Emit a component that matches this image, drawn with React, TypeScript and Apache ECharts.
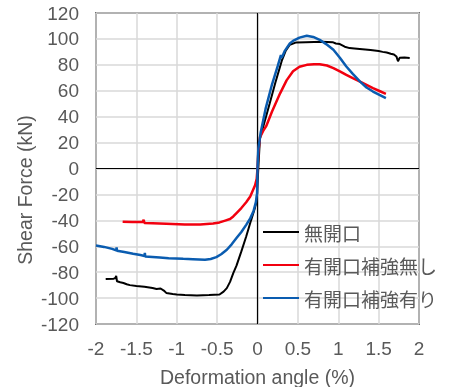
import React, { useEffect, useRef } from "react";
import * as echarts from "echarts";

const seriesNames = ["無開口", "有開口補強無し", "有開口補強有り"];
const seriesColors = ["#000000", "#f2000f", "#0a5cb0"];

const xTicks = { min: -2, max: 2, step: 0.5 };
const yTicks = { min: -120, max: 120, step: 20 };

const noOpening: number[][] = [
  [-1.88, -85.3], [-1.78, -85], [-1.76, -84.5], [-1.75, -82.8], [-1.74, -87], [-1.7, -87.8],
  [-1.66, -88.4], [-1.62, -89.3], [-1.58, -90], [-1.5, -90.6], [-1.4, -91.3], [-1.3, -92.2],
  [-1.25, -93], [-1.2, -92.6], [-1.16, -94.2], [-1.13, -96], [-1.05, -96.8], [-1.0, -97.2],
  [-0.9, -97.6], [-0.75, -98], [-0.6, -97.6], [-0.47, -97.2], [-0.42, -95], [-0.38, -92.3],
  [-0.34, -87.5], [-0.3, -80.7], [-0.26, -75], [-0.2, -64], [-0.14, -52.5], [-0.08, -40],
  [-0.03, -30], [-0.01, -25], [0, -12], [0.01, 0], [0.03, 23], [0.07, 32], [0.15, 50],
  [0.22, 66], [0.3, 83], [0.35, 91], [0.4, 95.5], [0.48, 97.3], [0.6, 97.5], [0.8, 97.8],
  [0.93, 97.5], [0.97, 96.5], [1.02, 96], [1.08, 94], [1.14, 92.9], [1.2, 92.6], [1.3, 92],
  [1.4, 91.4], [1.5, 90.6], [1.55, 90], [1.6, 89.5], [1.65, 88.6], [1.69, 88], [1.72, 86.5],
  [1.74, 82.8], [1.76, 85.4], [1.82, 85.6], [1.885, 85.2],
];

const openingNoReinf: number[][] = [
  [-1.67, -41], [-1.55, -41.2], [-1.42, -41.3], [-1.41, -39.5], [-1.4, -42], [-1.3, -42.2],
  [-1.13, -42.6], [-0.9, -43.2], [-0.71, -43.2], [-0.55, -42.5], [-0.47, -41.6], [-0.4, -40.2],
  [-0.34, -39], [-0.3, -37], [-0.26, -34.4], [-0.2, -30.5], [-0.14, -26], [-0.09, -21.6],
  [-0.03, -13], [-0.01, -8], [0, 0], [0.01, 12], [0.03, 24], [0.07, 29], [0.11, 33],
  [0.18, 44], [0.28, 58], [0.36, 68], [0.44, 75], [0.52, 78.5], [0.61, 80], [0.7, 80.5],
  [0.77, 80.5], [0.86, 79.5], [0.94, 77.5], [1.02, 75], [1.1, 72.3], [1.18, 69.8], [1.27, 67],
  [1.35, 64.5], [1.43, 62], [1.51, 59.8], [1.59, 57.6],
];

const openingReinf: number[][] = [
  [-2.0, -59.4], [-1.9, -60.5], [-1.8, -62], [-1.75, -63.2], [-1.745, -60.8], [-1.74, -63.5],
  [-1.65, -64.5], [-1.54, -65.8], [-1.45, -66.8], [-1.4, -67.5], [-1.395, -65.2], [-1.39, -68],
  [-1.3, -68.3], [-1.21, -68.7], [-1.1, -69.2], [-0.92, -69.7], [-0.8, -70], [-0.65, -70.4],
  [-0.58, -69.8], [-0.51, -68.4], [-0.45, -66.2], [-0.38, -62.7], [-0.32, -58.5], [-0.26, -53.7],
  [-0.2, -49], [-0.14, -43.5], [-0.09, -38.5], [-0.05, -33], [-0.02, -26], [-0.005, -19],
  [0, 0], [0.01, 15], [0.04, 28], [0.1, 46], [0.18, 65], [0.25, 79], [0.29, 87.5], [0.3, 85.5],
  [0.34, 91], [0.4, 96.5], [0.44, 98.5], [0.52, 101], [0.61, 102.4], [0.69, 101.5], [0.77, 99.3],
  [0.85, 96], [0.94, 91.6], [1.02, 85.5], [1.1, 78.7], [1.18, 73], [1.27, 67], [1.35, 62.5],
  [1.43, 59.4], [1.51, 56.8], [1.59, 54.3],
];

const xTitle = "Deformation angle (%)";
const yTitle = "Shear Force (kN)";

const LATIN = "'Liberation Sans', Arial, sans-serif";
const CJK = "'Noto Sans CJK JP', 'Liberation Sans', sans-serif";
const TEXT_COLOR = "#595959";

export default function App() {
  const ref = useRef<HTMLDivElement>(null);
  useEffect(() => {
    if (!ref.current) return;
    const chart = echarts.init(ref.current, undefined, { renderer: "svg" });
    const datasets = [noOpening, openingNoReinf, openingReinf];
    const widths = [2, 2.5, 2.5];
    chart.setOption({
      animation: false,
      grid: {
        left: 96,
        right: 35,
        top: 13,
        bottom: 63,
        show: true,
        borderColor: "#000",
        borderWidth: 1.5,
        backgroundColor: "transparent",
      },
      xAxis: {
        type: "value",
        min: xTicks.min,
        max: xTicks.max,
        interval: xTicks.step,
        axisLine: { show: false },
        axisTick: { show: false },
        splitLine: { show: true, lineStyle: { color: "#d9d9d9", width: 1.5 } },
        axisLabel: { margin: 15, fontSize: 19, color: TEXT_COLOR, fontFamily: LATIN },
      },
      yAxis: {
        type: "value",
        min: yTicks.min,
        max: yTicks.max,
        interval: yTicks.step,
        axisLine: { show: false },
        axisTick: { show: false },
        splitLine: { show: true, lineStyle: { color: "#d9d9d9", width: 1.5 } },
        axisLabel: { margin: 17, fontSize: 19, color: TEXT_COLOR, fontFamily: LATIN },
      },
      legend: {
        orient: "vertical",
        left: 263,
        top: 222,
        padding: 0,
        itemWidth: 36,
        itemHeight: 2,
        itemGap: 13,
        icon: "rect",
        textStyle: { fontSize: 19, lineHeight: 20, color: TEXT_COLOR, fontFamily: CJK },
        data: seriesNames,
      },
      graphic: [
        {
          type: "text",
          x: 257.5,
          y: 377,
          style: {
            text: xTitle,
            fontSize: 19.5,
            fill: TEXT_COLOR,
            fontFamily: LATIN,
            align: "center",
            verticalAlign: "middle",
          },
        },
        {
          type: "text",
          x: 25,
          y: 190,
          rotation: Math.PI / 2,
          style: {
            text: yTitle,
            fontSize: 19.5,
            fill: TEXT_COLOR,
            fontFamily: LATIN,
            align: "center",
            verticalAlign: "middle",
          },
        },
      ],
      series: seriesNames.map((name, i) => ({
        name,
        type: "line",
        data: datasets[i],
        showSymbol: false,
        symbol: "none",
        color: seriesColors[i],
        lineStyle: { color: seriesColors[i], width: widths[i] },
        z: 3 + i,
        ...(i === 0
          ? {
              markLine: {
                silent: true,
                symbol: "none",
                label: { show: false },
                lineStyle: { color: "#000", width: 1.2, type: "solid" },
                data: [{ xAxis: 0 }, { yAxis: 0 }],
                z: 1,
              },
            }
          : {}),
      })),
    });
    return () => chart.dispose();
  }, []);
  return (
    <div
      ref={ref}
      style={{ position: "fixed", left: 0, top: 0, width: 454, height: 387 }}
    />
  );
}
